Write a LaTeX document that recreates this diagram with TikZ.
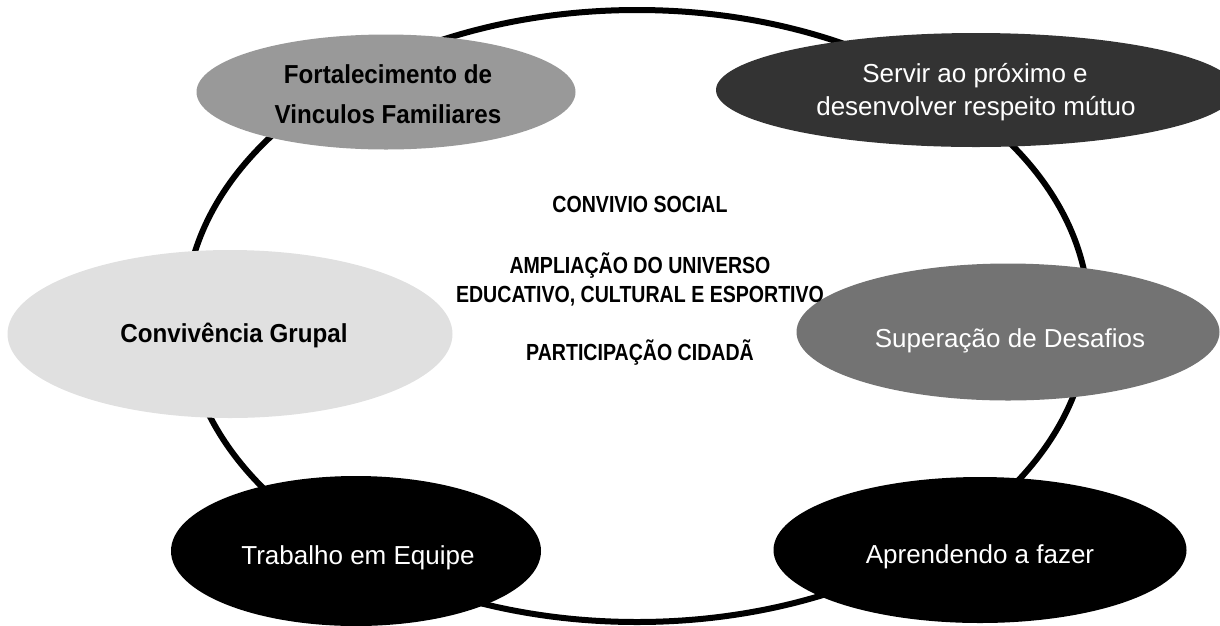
\documentclass[tikz,border=0pt]{standalone}
\usepackage{fontspec}
\setmainfont{Liberation Sans}
\newfontfamily\darkfont[FakeStretch=0.93]{Liberation Sans Bold}
\newfontfamily\midfont[FakeStretch=0.84]{Liberation Sans Bold}
\usetikzlibrary{shapes.geometric}
\begin{document}
\begin{tikzpicture}[x=1pt,y=-1pt,
  blob/.style={ellipse, inner sep=0pt, draw=none},
  ringline/.style={ellipse, draw=black, line width=6pt, inner sep=0pt},
  wtext/.style={anchor=base, text=white, inner sep=0pt, font=\fontsize{26}{30}\selectfont},
  dtext/.style={anchor=base, text=black, inner sep=0pt, font=\darkfont\fontsize{26}{30}\selectfont},
  ctext/.style={anchor=base, text=black, inner sep=0pt, font=\midfont\fontsize{23.3}{28}\selectfont}]
\useasboundingbox (0,0) rectangle (1220,625);
% ring
\node[ringline, minimum width=904pt, minimum height=612pt] (ring) at (637,316) {};
% ellipses
\node[blob, fill=black!40, minimum width=379pt, minimum height=115pt] (fort) at (386,92) {};
\node[blob, fill=black!80, minimum width=520pt, minimum height=114pt] (serv) at (976,90) {};
\node[blob, fill=black!12, minimum width=445pt, minimum height=168pt] (conv) at (230,334) {};
\node[blob, fill=black!55, minimum width=423pt, minimum height=137pt] (sup) at (1008,332) {};
\node[blob, fill=black, minimum width=370pt, minimum height=150pt] (trab) at (356,551) {};
\node[blob, fill=black, minimum width=413pt, minimum height=146pt] (apr) at (980,550) {};
% ellipse texts
\node[dtext] (fort1) at (388,83) {Fortalecimento de};
\node[dtext] (fort2) at (388,123) {Vinculos Familiares};
\node[wtext] (serv1) at (975,82) {Servir ao próximo e};
\node[wtext] (serv2) at (976,115) {desenvolver respeito mútuo};
\node[dtext] (conv1) at (234,342) {Convivência Grupal};
\node[wtext] (sup1) at (1010,347) {Superação de Desafios};
\node[wtext] (trab1) at (358,564) {Trabalho em Equipe};
\node[wtext] (apr1) at (980,563) {Aprendendo a fazer};
% centre texts
\node[ctext] (c1) at (640,212) {CONVIVIO SOCIAL};
\node[ctext] (c2) at (640,273) {AMPLIAÇÃO DO UNIVERSO};
\node[ctext] (c3) at (640,302) {EDUCATIVO, CULTURAL E ESPORTIVO};
\node[ctext] (c4) at (640,360) {PARTICIPAÇÃO CIDADÃ};
\end{tikzpicture}
\end{document}
